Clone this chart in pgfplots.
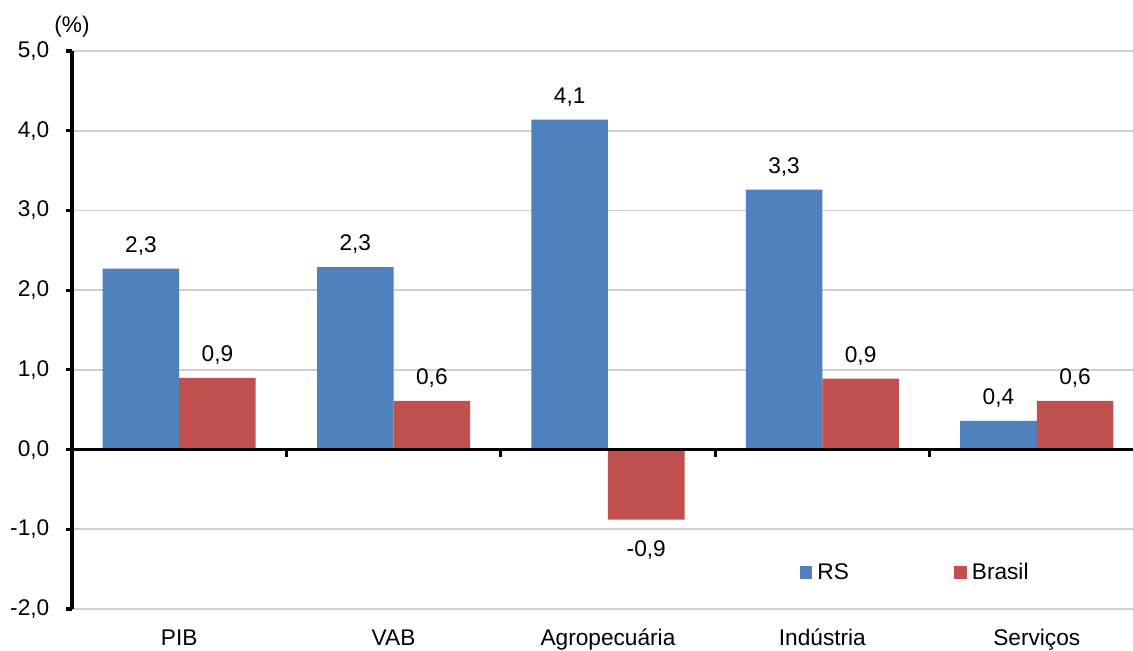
\documentclass[border=0pt]{standalone}
\usepackage{pgfplots}
\pgfplotsset{compat=1.18}
\usepackage{fontspec}
\setmainfont{Liberation Sans}

\definecolor{rsblue}{HTML}{4F81BD}
\definecolor{brred}{HTML}{C0504D}
\definecolor{gridgray}{HTML}{CFCFCF}

% Variação (%) por setor: RS e Brasil
\pgfplotstableread{
x  rs    br
0  2.27  0.90
1  2.29  0.61
2  4.14  -0.88
3  3.26  0.89
4  0.36  0.61
}\dados

\begin{document}
\begin{tikzpicture}
\begin{axis}[
  name=ax,
  scale only axis,
  width=795.75pt, height=418.5pt,
  xmin=-0.5, xmax=4.449,
  ymin=-2, ymax=5,
  font=\fontsize{17}{20}\selectfont,
  axis y line*=left,
  axis x line*=bottom,
  x axis line style={draw=none},
  y axis line style={line width=2.5pt, black},
  ytick={-2,-1,0,1,2,3,4,5},
  ymajorgrids,
  grid style={gridgray, line width=1.2pt},
  tick align=outside,
  major tick length=4.5pt,
  major y tick style={line width=2.3pt, black},
  yticklabel style={
    /pgf/number format/fixed,
    /pgf/number format/fixed zerofill,
    /pgf/number format/precision=1,
    /pgf/number format/use comma,
    /pgf/number format/assume math mode=true,
    xshift=-9pt},
  xtick={0,1,2,3,4},
  xticklabels={PIB,VAB,Agropecuária,Indústria,Serviços},
  major x tick style={draw=none},
  xticklabel style={text height=12.2pt, text depth=3.5pt, yshift=-7pt},
  ybar,
  bar width=0.357,
  nodes near coords={\pgfmathprintnumber[fixed,fixed zerofill,precision=1,use comma,assume math mode=true]{\pgfplotspointmeta}},
  % tall text box: positive labels sit above the bar, negative ones well below it
  nodes near coords style={font=\fontsize{17}{20}\selectfont, inner sep=1pt,
    text height=26.2pt, text depth=11pt},
  legend columns=2,
  legend image code/.code={\fill[#1] (0pt,-4.7pt) rectangle (9.4pt,4.7pt);},
  legend style={
    at={(axis description cs:0.686,0.0654)}, anchor=west,
    draw=none, fill=none, inner sep=0pt, outer sep=0pt,
    font=\fontsize{17}{20}\selectfont,
    nodes={inner sep=0pt, anchor=west},
    /tikz/every odd column/.append style={column sep=3.8pt},
    /tikz/every even column/.append style={column sep=79pt},
  },
  clip=false,
]
  \addplot[fill=rsblue, draw=none, bar shift=-0.1785] table[x=x, y=rs] {\dados};
  \addlegendentry{RS}
  \addplot[fill=brred, draw=none, bar shift=0.1785] table[x=x, y=br] {\dados};
  \addlegendentry{Brasil}

  % linha do zero e marcas entre as categorias
  \draw[black, line width=2.3pt] (axis cs:-0.5,0) -- (axis cs:4.449,0);
  \draw[black, line width=2.3pt] (axis cs:0.5,0) -- ([yshift=-5.5pt]axis cs:0.5,0);
  \draw[black, line width=2.3pt] (axis cs:1.5,0) -- ([yshift=-5.5pt]axis cs:1.5,0);
  \draw[black, line width=2.3pt] (axis cs:2.5,0) -- ([yshift=-5.5pt]axis cs:2.5,0);
  \draw[black, line width=2.3pt] (axis cs:3.5,0) -- ([yshift=-5.5pt]axis cs:3.5,0);
  \node[anchor=center] at ([yshift=18pt]rel axis cs:0,1) {(\%)};
\end{axis}
\pgfresetboundingbox
\useasboundingbox ([shift={(-54pt,-31.5pt)}]ax.south west) rectangle ([shift={(0pt,38.25pt)}]ax.north east);
\end{tikzpicture}
\end{document}
